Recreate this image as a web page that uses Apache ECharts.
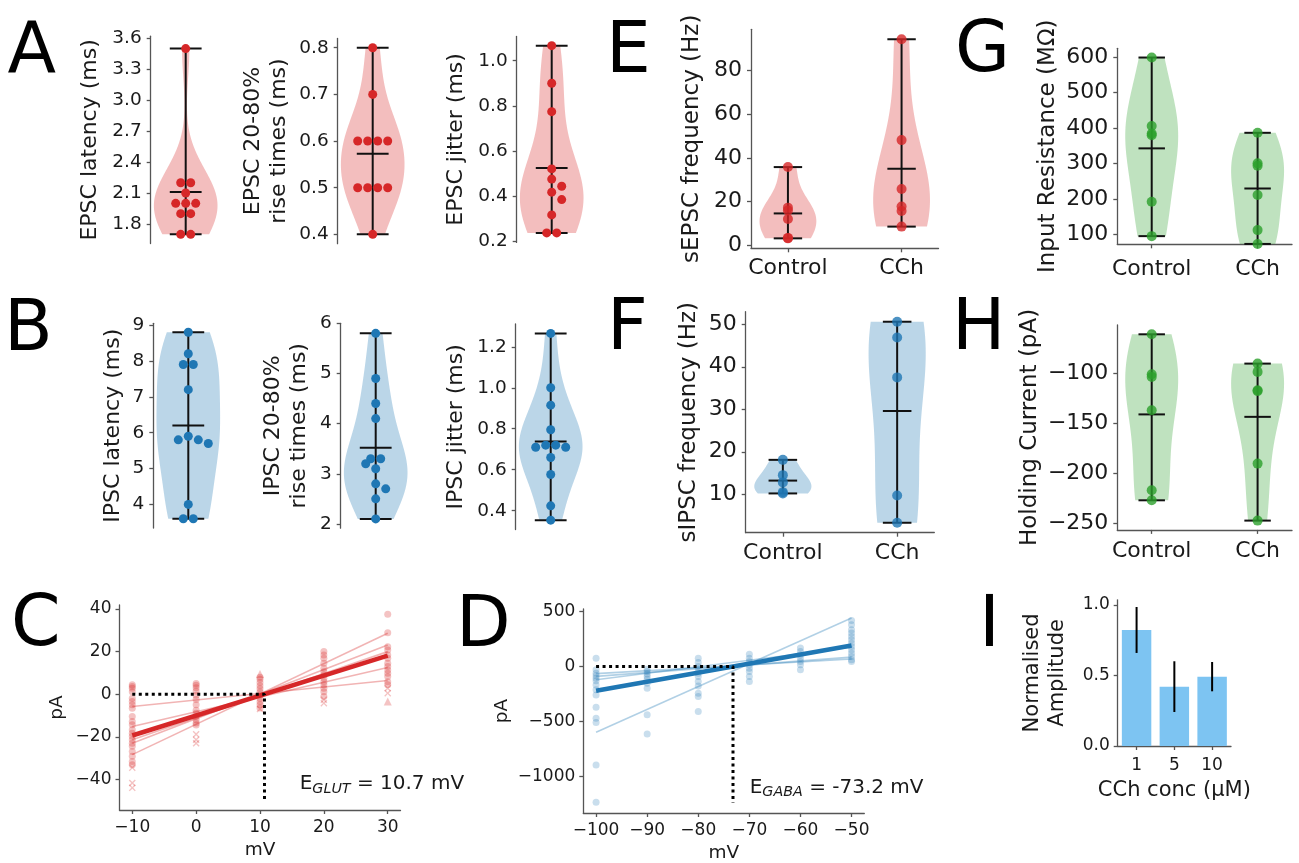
<!DOCTYPE html>
<html>
<head>
<meta charset="utf-8">
<script src="https://cdn.jsdelivr.net/npm/echarts@6/dist/echarts.min.js"></script>
<style>
html, body { margin: 0; padding: 0; background: #fff; }
#chart { width: 1299px; height: 863px; }
</style>
</head>
<body>
<div id="chart"></div>
<script>
// ---------- evoked EPSC / IPSC kinetics (ms) ----------
const epscLatency = [3.5, 2.2, 2.2, 2.1, 2.0, 2.0, 2.0, 1.9, 1.9, 1.7, 1.7];
const epscRise    = [0.8, 0.7, 0.6, 0.6, 0.6, 0.6, 0.5, 0.5, 0.5, 0.5, 0.4];
const epscJitter  = [1.067, 0.9, 0.774, 0.52, 0.475, 0.443, 0.417, 0.384, 0.316, 0.236, 0.236];
const ipscLatency = [8.8, 8.2, 7.9, 7.9, 7.2, 5.9, 5.8, 5.8, 5.7, 4.0, 3.6, 3.6];
const ipscRise    = [5.8, 4.9, 4.4, 4.1, 3.3, 3.3, 3.2, 3.1, 2.8, 2.7, 2.5, 2.1];
const ipscJitter  = [1.265, 1.0, 0.915, 0.795, 0.72, 0.72, 0.71, 0.71, 0.66, 0.577, 0.424, 0.354];

// ---------- spontaneous activity and passive properties ----------
const groups = ['Control', 'CCh'];
const sepscControl = [35.8, 17.3, 16.0, 12.1, 3.5, 3.3];
const sepscCCh     = [94.1, 48.1, 25.8, 17.8, 15.8, 8.65];
const sipscControl = [18.1, 14.5, 12.8, 10.5, 10.2];
const sipscCCh     = [50.6, 46.9, 37.5, 9.7, 3.3];
const rinControl   = [598, 405, 384, 379, 192, 95];
const rinCCh       = [386, 300, 293, 211, 112, 73];
const holdControl  = [-60.7, -100.7, -103.3, -136.7, -216.7, -226.7];
const holdCCh      = [-90, -98.3, -116.7, -117.5, -190, -247];

// ---------- I-V relations ----------
const glutVoltages = [-10, 0, 10, 20, 30];
const glutCircle = [
  [4.4, 3.6, 2.8, 1.2, -1.9, -3.4, -5.0, -6.6, -10.5, -12.8, -14.4, -16.7, -18.3, -19.8, -21.4, -23.0, -24.5, -26.9, -29.2, -31.6, -33.1],
  [5.0, 4.2, 3.0, 1.5, -0.5, -2.5, -5.0, -7.5, -9.0, -10.5, -12.0, -13.5, -14.5],
  [8.0, 7.0, 5.5, 4.0, 2.5, 1.0, -0.5, -2.0, -3.5, -5.0, -6.5],
  [20.0, 18.4, 16.9, 14.5, 12.2, 10.6, 9.0, 7.5, 5.9, 4.4, 2.8, 1.2, -1.1],
  [37.5, 28.9, 22.3, 20.8, 18.4, 16.9, 14.5, 13.0, 11.4, 9.8, 8.3, 5.9, 4.4]
];
const glutCross = [[-34.5, -41.7, -44.0], [-18.8, -21.4, -23.0], [-7.0], [-2.6, -4.2], [2.8, 0.5]];
const glutTriangle = [[], [], [9.5], [], [-3.4]];
const glutFitStart = [-5.8, -15.2, -21.4, -23.0, -28.4];   // pA at -10 mV
const glutFitEnd   = [6.4, 12.5, 20.0, 23.1, 28.6];        // pA at +30 mV
const glutMeanFit  = [-19.4, 18.1];
const E_GLUT = 10.7;
const glutDropTo = -50;

const gabaVoltages = [-100, -90, -80, -70, -60, -50];
const gabaCircle = [
  [76, -30, -61, -85, -106, -130, -167, -212, -258, -370, -470, -509, -894, -1233],
  [-24, -45, -67, -91, -115, -152, -197, -439, -612],
  [76, 36, 0, -30, -61, -91, -136, -176, -242, -273, -409],
  [112, 76, 45, 15, -15, -45, -91, -136],
  [167, 136, 106, 76, 45, 15, -30],
  [418, 379, 333, 303, 273, 242, 212, 182, 152, 121, 91, 61, 45]
];
const gabaFitStart = [-597, -121, -90, -65];   // pA at -100 mV
const gabaFitEnd   = [440, 175, 85, 68];       // pA at -50 mV
const gabaMeanFit  = [-220, 190];
const E_GABA = -73.2;
const gabaDropTo = -1240;

// ---------- CCh dose response ----------
const cchConc = ['1', '5', '10'];
const ampMean = [0.823, 0.421, 0.492];
const ampErr  = [0.163, 0.18, 0.104];

// ---------- styling ----------
const FONT = 'DejaVu Sans';
const AX = '#555555';
const TXT = '#1a1a1a';
const RED = '#d62728', BLUE = '#1f77b4', GREEN = '#2ca02c';
const rgba = (hex, a) => {
  const n = parseInt(hex.slice(1), 16);
  return `rgba(${(n >> 16) & 255},${(n >> 8) & 255},${n & 255},${a})`;
};
const minus = s => String(s).replace('-', '\u2212');

const grids = [], xAxes = [], yAxes = [], series = [];

function addGrid(r) {
  grids.push({ left: r[0], top: r[1], width: r[2], height: r[3], containLabel: false, outerBoundsMode: 'none' });
  return grids.length - 1;
}

function valueAxis(gi, o, isX) {
  return {
    gridIndex: gi, type: 'value', min: o.min, max: o.max,
    position: isX ? 'bottom' : 'left',
    axisLine: { show: true, onZero: false, lineStyle: { color: AX, width: 1.3 } },
    axisTick: { show: true, length: 4, customValues: o.ticks, lineStyle: { color: AX, width: 1.3 } },
    axisLabel: { show: true, customValues: o.ticks, margin: o.margin, fontSize: o.fs,
                 fontFamily: FONT, color: TXT, formatter: o.fmt },
    splitLine: { show: false },
    name: o.name, nameLocation: 'middle', nameRotate: isX ? 0 : 90, nameGap: o.gap,
    nameTextStyle: { fontSize: o.nfs, fontFamily: FONT, color: TXT, lineHeight: Math.round(o.nfs * 1.2) }
  };
}

// Gaussian KDE (Scott's rule) profile, scaled so the widest point is half of 0.5
function kdeProfile(vals) {
  const n = vals.length;
  const mean = vals.reduce((a, b) => a + b, 0) / n;
  const sd = Math.sqrt(vals.reduce((s, v) => s + (v - mean) ** 2, 0) / (n - 1));
  const bw = sd * Math.pow(n, -0.2);
  const lo = Math.min(...vals), hi = Math.max(...vals);
  const prof = [];
  for (let i = 0; i < 100; i++) {
    const y = lo + (hi - lo) * i / 99;
    let d = 0;
    vals.forEach(v => { d += Math.exp(-0.5 * ((y - v) / bw) ** 2); });
    prof.push([y, d]);
  }
  const mx = Math.max(...prof.map(p => p[1]));
  return { prof: prof.map(p => [p[0], 0.25 * p[1] / mx]), lo, hi, mean };
}

function violin(gi, vals, pos, color) {
  const k = kdeProfile(vals);
  return {
    type: 'custom', xAxisIndex: gi, yAxisIndex: gi, silent: true, z: 2,
    data: [[pos, k.mean]],
    renderItem: (params, api) => {
      const left = k.prof.map(p => api.coord([pos - p[1], p[0]]));
      const right = k.prof.slice().reverse().map(p => api.coord([pos + p[1], p[0]]));
      const seg = (a, b) => ({ type: 'line', shape: { x1: a[0], y1: a[1], x2: b[0], y2: b[1] },
                               style: { stroke: '#111', lineWidth: 2 } });
      const cap = y => seg(api.coord([pos - 0.125, y]), api.coord([pos + 0.125, y]));
      return { type: 'group', children: [
        { type: 'polygon', shape: { points: left.concat(right) }, style: { fill: rgba(color, 0.3) } },
        seg(api.coord([pos, k.lo]), api.coord([pos, k.hi])),
        cap(k.lo), cap(k.hi), cap(k.mean)
      ] };
    }
  };
}

// beeswarm offsets (pixels -> x data units)
function swarm(vals, yPxPerUnit, xPxPerUnit, dia) {
  const order = vals.map((v, i) => i).sort((a, b) => vals[b] - vals[a]);
  const placed = [], off = new Array(vals.length).fill(0);
  for (const i of order) {
    const y = vals[i] * yPxPerUnit;
    for (let k = 0; k < 60; k++) {
      const c = k === 0 ? 0 : (k % 2 ? 1 : -1) * Math.ceil(k / 2) * dia / 2;
      if (placed.every(p => Math.hypot(p.x - c, p.y - y) >= dia - 1e-6)) {
        off[i] = c; placed.push({ x: c, y }); break;
      }
    }
  }
  const same = {};
  vals.forEach((v, i) => { (same[v] = same[v] || []).push(i); });
  Object.values(same).forEach(ix => {
    if (ix.length > 1) {
      const m = ix.reduce((s, i) => s + off[i], 0) / ix.length;
      ix.forEach(i => { off[i] -= m; });
    }
  });
  return off.map(o => o / xPxPerUnit);
}

// ---------- panels A and B: single violins with swarm ----------
const singleX = [0.725, 1.275];
const singles = [
  { vals: epscLatency, rect: [150.7, 36.2, 70, 207.4], y: [1.61, 3.62], ticks: [1.8, 2.1, 2.4, 2.7, 3.0, 3.3, 3.6], dec: 1, name: 'EPSC latency (ms)', gap: 47, color: RED },
  { vals: epscRise, rect: [337.7, 38.4, 70, 205.3], y: [0.38, 0.82], ticks: [0.4, 0.5, 0.6, 0.7, 0.8], dec: 1, name: 'EPSC 20-80%\nrise times (ms)', gap: 45, color: RED },
  { vals: epscJitter, rect: [516.7, 36.4, 70, 206], y: [0.194, 1.108], ticks: [0.2, 0.4, 0.6, 0.8, 1.0], dec: 1, name: 'EPSC jitter (ms)', gap: 47, color: RED },
  { vals: ipscLatency, rect: [153.3, 323.3, 70, 204.8], y: [3.34, 9.05], ticks: [4, 5, 6, 7, 8, 9], dec: 0, name: 'IPSC latency (ms)', gap: 27, color: BLUE },
  { vals: ipscRise, rect: [340.7, 323.3, 70, 204.9], y: [1.915, 6.0], ticks: [2, 3, 4, 5, 6], dec: 0, name: 'IPSC 20-80%\nrise times (ms)', gap: 28, color: BLUE },
  { vals: ipscJitter, rect: [515.7, 324, 70, 205.6], y: [0.308, 1.311], ticks: [0.4, 0.6, 0.8, 1.0, 1.2], dec: 1, name: 'IPSC jitter (ms)', gap: 46, color: BLUE }
];
singles.forEach(p => {
  const gi = addGrid(p.rect);
  xAxes.push({ gridIndex: gi, type: 'value', min: singleX[0], max: singleX[1], show: false });
  yAxes.push(valueAxis(gi, { min: p.y[0], max: p.y[1], ticks: p.ticks, margin: 9, fs: 18.5,
    fmt: v => v.toFixed(p.dec), name: p.name, gap: p.gap, nfs: 22 }, false));
  series.push(violin(gi, p.vals, 1, p.color));
  const yppu = p.rect[3] / (p.y[1] - p.y[0]);
  const xppu = p.rect[2] / (singleX[1] - singleX[0]);
  const offs = swarm(p.vals, yppu, xppu, 10);
  series.push({ type: 'scatter', xAxisIndex: gi, yAxisIndex: gi, z: 5, silent: true,
    symbol: 'circle', symbolSize: 9, itemStyle: { color: p.color, opacity: 1 },
    data: p.vals.map((v, i) => [1 + offs[i], v]) });
});

// ---------- panels E-H: paired violins ----------
const pairX = [0.675, 2.325];
const pairs = [
  { a: sepscControl, b: sepscCCh, rect: [751, 29.3, 187.5, 219], y: [-1.24, 98.64], ticks: [0, 20, 40, 60, 80], name: 'sEPSC frequency (Hz)', gap: 45, xm: 9.4, color: RED },
  { a: sipscControl, b: sipscCCh, rect: [745.7, 311.7, 188.6, 221], y: [0.96, 52.96], ticks: [10, 20, 30, 40, 50], name: 'sIPSC frequency (Hz)', gap: 43, xm: 9.1, color: BLUE },
  { a: rinControl, b: rinCCh, rect: [1117.3, 48.3, 174.7, 196], y: [72, 624], ticks: [100, 200, 300, 400, 500, 600], name: 'Input Resistance (M\u03a9)', gap: 53, xm: 14, color: GREEN },
  { a: holdControl, b: holdCCh, rect: [1117.3, 325, 174.7, 204.9], y: [-256.3, -51.4], ticks: [-250, -200, -150, -100], name: 'Holding Current (pA)', gap: 69, xm: 10, color: GREEN }
];
pairs.forEach(p => {
  const gi = addGrid(p.rect);
  xAxes.push(valueAxis(gi, { min: pairX[0], max: pairX[1], ticks: [1, 2], margin: p.xm, fs: 22,
    fmt: v => groups[Math.round(v) - 1] }, true));
  yAxes.push(valueAxis(gi, { min: p.y[0], max: p.y[1], ticks: p.ticks, margin: 9, fs: 22,
    fmt: v => minus(v), name: p.name, gap: p.gap, nfs: 23 }, false));
  [p.a, p.b].forEach((vals, k) => {
    series.push(violin(gi, vals, k + 1, p.color));
    series.push({ type: 'scatter', xAxisIndex: gi, yAxisIndex: gi, z: 5, silent: true,
      symbol: 'circle', symbolSize: 10, itemStyle: { color: p.color },
      data: vals.map(v => [k + 1, v]) });
  });
});

// ---------- panel C: glutamatergic I-V ----------
const crossPath = 'path://M0,1.4L1.4,0L5,3.6L8.6,0L10,1.4L6.4,5L10,8.6L8.6,10L5,6.4L1.4,10L0,8.6L3.6,5Z';
function ivPanel(rect, xr, yr, xt, yt, volts, circles, crosses, tris, fitV, fitS, fitE, meanFit, rev, dropTo, color, alpha) {
  const gi = addGrid(rect);
  xAxes.push(valueAxis(gi, { min: xr[0], max: xr[1], ticks: xt, margin: 8.8, fs: 17,
    fmt: v => minus(v), name: 'mV', gap: 29, nfs: 18.5 }, true));
  yAxes.push(valueAxis(gi, { min: yr[0], max: yr[1], ticks: yt, margin: 8, fs: 17,
    fmt: v => minus(v), name: 'pA', gap: rect === undefined ? 0 : null, nfs: 18.5 }, false));
  const pts = list => volts.flatMap((v, i) => (list[i] || []).map(y => [v, y]));
  series.push({ type: 'scatter', xAxisIndex: gi, yAxisIndex: gi, silent: true, z: 3, symbol: 'circle', symbolSize: 7,
    itemStyle: { color: rgba(color, alpha) }, data: pts(circles) });
  if (crosses) series.push({ type: 'scatter', xAxisIndex: gi, yAxisIndex: gi, silent: true, z: 3, symbol: crossPath, symbolSize: 7,
    itemStyle: { color: rgba(color, alpha) }, data: pts(crosses) });
  if (tris) series.push({ type: 'scatter', xAxisIndex: gi, yAxisIndex: gi, silent: true, z: 3, symbol: 'triangle', symbolSize: 8,
    itemStyle: { color: rgba(color, alpha) }, data: pts(tris) });
  fitS.forEach((s, i) => series.push({ type: 'line', xAxisIndex: gi, yAxisIndex: gi, silent: true, z: 4, symbol: 'none',
    lineStyle: { color: rgba(color, 0.35), width: 1.6 }, data: [[fitV[0], s], [fitV[1], fitE[i]]] }));
  series.push({ type: 'line', xAxisIndex: gi, yAxisIndex: gi, silent: true, z: 6, symbol: 'none',
    lineStyle: { color: color, width: 4.5 }, data: [[fitV[0], meanFit[0]], [fitV[1], meanFit[1]]] });
  series.push({ type: 'line', xAxisIndex: gi, yAxisIndex: gi, silent: true, z: 7, symbol: 'none',
    lineStyle: { color: '#000', width: 3, type: [3, 3.5] },
    data: [[volts[0], 0], [rev, 0], [rev, dropTo]] });
  return gi;
}
const giC = ivPanel([119.5, 605, 281, 205], [-12, 32], [-54.4, 41.9], [-10, 0, 10, 20, 30], [-40, -20, 0, 20, 40],
  glutVoltages, glutCircle, glutCross, glutTriangle, [-10, 30], glutFitStart, glutFitEnd, glutMeanFit, E_GLUT, glutDropTo, RED, 0.35);
yAxes[giC].nameGap = 51;
const giD = ivPanel([583.3, 609, 281, 204], [-102.5, -47.5], [-1330, 522], [-100, -90, -80, -70, -60, -50], [-1000, -500, 0, 500],
  gabaVoltages, gabaCircle, null, null, [-100, -50], gabaFitStart, gabaFitEnd, gabaMeanFit, E_GABA, gabaDropTo, BLUE, 0.3);
yAxes[giD].nameGap = 70;

// ---------- panel I: dose response ----------
const giI = addGrid([1117.7, 599.8, 113.3, 146.2]);
xAxes.push({ gridIndex: giI, type: 'category', data: cchConc, boundaryGap: true,
  axisLine: { show: true, lineStyle: { color: AX, width: 1.3 } },
  axisTick: { show: true, alignWithLabel: true, length: 4, lineStyle: { color: AX, width: 1.3 } },
  axisLabel: { margin: 11, fontSize: 17, fontFamily: FONT, color: TXT },
  name: 'CCh conc (\u00b5M)', nameLocation: 'middle', nameGap: 32,
  nameTextStyle: { fontSize: 21, fontFamily: FONT, color: TXT, lineHeight: 25 } });
yAxes.push(valueAxis(giI, { min: 0, max: 1.037, ticks: [0, 0.5, 1.0], margin: 8, fs: 17,
  fmt: v => v.toFixed(1), name: 'Normalised\nAmplitude', gap: 48, nfs: 21 }, false));
series.push({ type: 'bar', xAxisIndex: giI, yAxisIndex: giI, silent: true, barWidth: '78%',
  itemStyle: { color: '#7dc4f2' }, data: ampMean });
series.push({ type: 'custom', xAxisIndex: giI, yAxisIndex: giI, silent: true, z: 5,
  data: ampMean.map((m, i) => [i, m, ampErr[i]]),
  renderItem: (params, api) => {
    const i = api.value(0), m = api.value(1), e = api.value(2);
    const a = api.coord([i, m - e]), b = api.coord([i, m + e]);
    return { type: 'line', shape: { x1: a[0], y1: a[1], x2: b[0], y2: b[1] }, style: { stroke: '#000', lineWidth: 2 } };
  } });

// ---------- panel letters and reversal-potential labels ----------
const letters = [['A', 7.5, 18], ['B', 4, 296], ['C', 11, 591], ['D', 456, 592], ['E', 606, 18],
                 ['F', 607, 295], ['G', 955, 17], ['H', 952, 295], ['I', 979, 592]];
const graphic = letters.map(([t, x, y]) => ({ type: 'text', left: x, top: y, silent: true,
  style: { text: t, fontSize: 71, fontFamily: FONT, fill: '#000' } }));
const revLabel = (sub, val, x, y) => ({ type: 'text', left: x, top: y, silent: true,
  style: { text: `{e|E}{s|${sub}}{e| = ${val} mV}`,
    rich: { e: { fontSize: 20, fontFamily: FONT, fill: TXT, lineHeight: 24 },
            s: { fontSize: 14.3, fontFamily: FONT, fontStyle: 'italic', fill: TXT, verticalAlign: 'bottom', lineHeight: 16 } } } });
graphic.push(revLabel('GLUT', E_GLUT, 299.7, 774));
graphic.push(revLabel('GABA', E_GABA, 749.7, 777.4));

const chart = echarts.init(document.getElementById('chart'), null, { renderer: 'canvas' });
chart.setOption({
  animation: false,
  backgroundColor: '#ffffff',
  textStyle: { fontFamily: FONT },
  grid: grids, xAxis: xAxes, yAxis: yAxes, series: series, graphic: graphic
});
</script>
</body>
</html>
